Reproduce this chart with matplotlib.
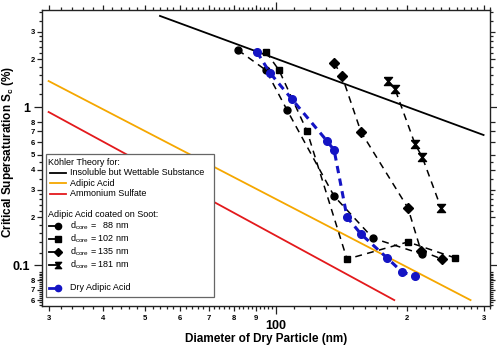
import matplotlib
matplotlib.use("Agg")
import matplotlib.pyplot as plt
import numpy as np
from matplotlib.patches import Rectangle

plt.rcParams['font.family'] = ['Liberation Sans', 'DejaVu Sans']
plt.rcParams['mathtext.fontset'] = 'custom'
plt.rcParams['mathtext.rm'] = 'Liberation Sans'

# Köhler theory lines (end points)
insol_d = [54.1, 300.0]
insol_s = [3.77, 0.665]
adipic_d = [30.0, 280.0]
adipic_s = [1.46, 0.060]
amsulf_d = [30.0, 187.0]
amsulf_s = [0.93, 0.060]

# adipic acid coated on soot, by core diameter
c88_d = [81.8, 94.8, 106.0, 136.0, 167.0, 217.0]
c88_s = [2.29, 1.71, 0.957, 0.273, 0.148, 0.117]
c102_d = [94.8, 101.6, 117.8, 145.6, 201.0, 258.0]
c102_s = [2.23, 1.71, 0.705, 0.109, 0.140, 0.111]
c135_d = [136.0, 141.8, 156.8, 201.0, 215.4, 240.8]
c135_s = [1.90, 1.57, 0.695, 0.230, 0.123, 0.109]
c181_d = [181.0, 187.7, 208.7, 216.8, 239.5]
c181_s = [1.46, 1.30, 0.583, 0.483, 0.230]

# dry adipic acid
dry_d = [90.4, 96.9, 108.8, 131.0, 136.0, 145.6, 156.8, 180.0, 194.9, 208.7]
dry_s = [2.23, 1.64, 1.12, 0.609, 0.534, 0.201, 0.157, 0.111, 0.0903, 0.0852]

orange = '#F5A700'
red = '#E3191C'
blue = '#1414C4'
hourglass = [(-1, 1), (1, 1), (0.12, 0), (1, -1), (-1, -1), (-0.12, 0), (-1, 1)]

fig = plt.figure(figsize=(4.97, 3.47), dpi=100)
ax = fig.add_axes([42 / 497, 1 - 305.7 / 347, 448 / 497, 295.7 / 347])
ax.set_xscale('log')
ax.set_yscale('log')
ax.set_xlim(28.97, 310.4)
ax.set_ylim(0.0553, 4.11)

ax.plot(insol_d, insol_s, color='k', lw=1.3)
ax.plot(adipic_d, adipic_s, color=orange, lw=1.3)
ax.plot(amsulf_d, amsulf_s, color=red, lw=1.3)

dash_kw = dict(color='k', lw=1.1, dashes=(4.5, 3.5), mfc='k', mec='k')
ax.plot(c88_d, c88_s, marker='o', ms=5, **dash_kw)
ax.plot(c102_d, c102_s, marker='s', ms=4.6, **dash_kw)
ax.plot(c135_d, c135_s, marker='D', ms=4.6, **dash_kw)
ax.plot(c181_d, c181_s, marker=hourglass, ms=5.8, **dash_kw)
ax.plot(dry_d, dry_s, color=blue, lw=2.2, dashes=(2.4, 1.8), marker='o', ms=5.5,
        mfc=blue, mec=blue)

# ticks
x_major = [100]
x_minor_lab = [30, 40, 50, 60, 70, 80, 90, 200, 300]
x_minor_txt = ['3', '4', '5', '6', '7', '8', '9', '2', '3']
x_sub = [v for v in np.arange(30, 100, 2) if v % 10 != 0] + \
        [v for v in range(110, 311, 10) if v % 100 != 0]
y_major = [0.1, 1]
y_minor_lab = [0.06, 0.07, 0.08, 0.2, 0.3, 0.4, 0.5, 0.6, 0.7, 0.8, 2, 3]
y_minor_txt = ['6', '7', '8', '2', '3', '4', '5', '6', '7', '8', '2', '3']
y_sub = [0.056, 0.058, 0.062, 0.064, 0.066, 0.068, 0.072, 0.074, 0.076, 0.078,
         0.082, 0.084, 0.086, 0.088, 0.09, 0.12, 0.14, 0.16, 0.18, 0.22, 0.24,
         0.26, 0.28, 0.35, 0.45, 1.2, 1.4, 1.6, 1.8, 2.2, 2.4, 2.6, 2.8, 3.5, 4.0]

ax.set_xticks(x_major, ['100'])
ax.set_xticks(x_minor_lab + x_sub, x_minor_txt + [''] * len(x_sub), minor=True)
ax.set_yticks(y_major, ['0.1', '1'])
ax.set_yticks(y_minor_lab + y_sub, y_minor_txt + [''] * len(y_sub), minor=True)

ax.tick_params(which='both', direction='out', top=True, right=True, width=0.9,
               color='#222222')
ax.tick_params(axis='x', which='major', length=6, pad=4.5, labelsize=9)
ax.tick_params(axis='y', which='major', length=6, pad=2.5, labelsize=9)
ax.tick_params(axis='x', which='minor', length=3.5, pad=3, labelsize=5.5)
ax.tick_params(axis='y', which='minor', length=3.5, pad=1.5, labelsize=5.5)
for lab in ax.get_xticklabels(which='both') + ax.get_yticklabels(which='both'):
    lab.set_fontweight('bold')

for axis, subs in ((ax.xaxis, x_sub), (ax.yaxis, y_sub)):
    locs = axis.get_minorticklocs()
    for loc, tick in zip(locs, axis.get_minor_ticks(len(locs))):
        if any(np.isclose(loc, s) for s in subs):
            tick.tick1line.set_markersize(2)
            tick.tick2line.set_markersize(2)

for sp in ax.spines.values():
    sp.set_linewidth(1.0)
    sp.set_color('#222222')

ax.set_xlabel('Diameter of Dry Particle (nm)', fontsize=8.5, fontweight='bold')
ax.xaxis.set_label_coords(0.5, -0.092)
ax.set_ylabel(r'Critical Supersaturation S$_{\mathregular{c}}$ (%)', fontsize=8.5,
              fontweight='bold')
ax.yaxis.set_label_coords(-0.058, 0.52)


# hand-made legend box, positions in pixels of the figure
def frac(px, py):
    return ((px - 42) / 448, (305.7 - py) / 295.7)


x0, y0 = frac(46, 297)
x1, y1 = frac(214, 154)
ax.add_patch(Rectangle((x0, y0), x1 - x0, y1 - y0, transform=ax.transAxes,
                       facecolor='white', edgecolor='#666666', lw=0.9, zorder=5))

txt_kw = dict(transform=ax.transAxes, fontsize=6.5, va='center', ha='left', zorder=6)
ax.text(*frac(48, 162), 'Köhler Theory for:', **txt_kw)
ax.text(*frac(48, 214.5), 'Adipic Acid coated on Soot:', **txt_kw)

theory_rows = [('Insoluble but Wettable Substance', 'k', 172.5),
               ('Adipic Acid', orange, 183),
               ('Ammonium Sulfate', red, 193.5)]
for label, col, py in theory_rows:
    xa, ya = frac(50, py)
    xb, _ = frac(66, py)
    ax.plot([xa, xb], [ya, ya], color=col, lw=1.3, transform=ax.transAxes,
            clip_on=False, zorder=6)
    ax.text(*frac(70, py), label, **txt_kw)

soot_rows = [('o', 4.5, r'd$_{\mathregular{core}}$ =   88 nm', 226),
             ('s', 4.2, r'd$_{\mathregular{core}}$ = 102 nm', 239),
             ('D', 3.8, r'd$_{\mathregular{core}}$ = 135 nm', 252),
             (hourglass, 4.5, r'd$_{\mathregular{core}}$ = 181 nm', 265)]
for mk, ms, label, py in soot_rows:
    xa, ya = frac(49, py)
    xb, _ = frac(58, py)
    ax.plot([xa, xb], [ya, ya], color='k', lw=1.3, transform=ax.transAxes,
            clip_on=False, zorder=6)
    ax.plot([xb], [ya], marker=mk, ms=ms, color='k', transform=ax.transAxes,
            clip_on=False, zorder=6)
    ax.text(*frac(70, py), label, **txt_kw)

xa, ya = frac(49, 288)
xb, _ = frac(58, 288)
ax.plot([xa, xb], [ya, ya], color=blue, lw=2.0, transform=ax.transAxes,
        clip_on=False, zorder=6)
ax.plot([xb], [ya], marker='o', ms=4.5, color=blue, transform=ax.transAxes,
        clip_on=False, zorder=6)
ax.text(*frac(70, 288), 'Dry Adipic Acid', **txt_kw)

fig.savefig('out.png', dpi=100)
